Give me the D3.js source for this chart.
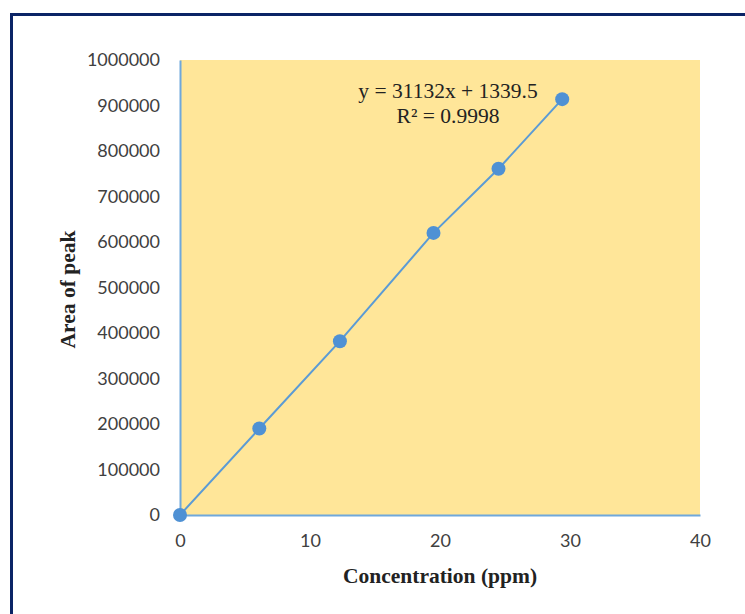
<!DOCTYPE html>
<html>
<head>
<meta charset="utf-8">
<script src="https://cdn.jsdelivr.net/npm/d3@7"></script>
<style>
  body { margin: 0; background: #fff; }
  svg { display: block; }
</style>
</head>
<body>
<div id="chart"></div>
<script>
// Calibration data
const concentration = [0, 6.1, 12.3, 19.5, 24.5, 29.4];
const peakArea = [0, 190000, 382000, 620000, 761000, 914000];
const xTicks = [0, 10, 20, 30, 40];
const yTicks = [0, 100000, 200000, 300000, 400000, 500000, 600000, 700000, 800000, 900000, 1000000];
const fitLabels = ["y = 31132x + 1339.5", "R\u00b2 = 0.9998"];

const width = 745, height = 614;
const margin = { top: 60, right: 45, bottom: 99, left: 180 };
const innerWidth = width - margin.left - margin.right;
const innerHeight = height - margin.top - margin.bottom;

const svg = d3.select("#chart").append("svg")
    .attr("width", width)
    .attr("height", height);

// outer frame
svg.append("rect")
    .attr("x", 11.5).attr("y", 14.5)
    .attr("width", 800).attr("height", 700)
    .attr("fill", "none")
    .attr("stroke", "#0b2466")
    .attr("stroke-width", 3);

const g = svg.append("g")
    .attr("transform", `translate(${margin.left},${margin.top})`);

const x = d3.scaleLinear().domain([0, 40]).range([0, innerWidth]);
const y = d3.scaleLinear().domain([0, 1000000]).range([innerHeight, 0]);

// plot area
g.append("rect")
    .attr("width", innerWidth)
    .attr("height", innerHeight)
    .attr("fill", "#ffe699");

// axes
const xAxis = g.append("g")
    .attr("transform", `translate(0,${innerHeight})`)
    .call(d3.axisBottom(x).tickValues(xTicks).tickSize(0).tickPadding(19));
const yAxis = g.append("g")
    .call(d3.axisLeft(y).tickValues(yTicks).tickSize(0).tickPadding(20).tickFormat(d3.format("d")));

[xAxis, yAxis].forEach(ax => {
    ax.select(".domain").attr("stroke", "#6fa8dc").attr("stroke-width", 2);
    ax.selectAll("text")
        .attr("font-family", "Lato, 'Open Sans', sans-serif")
        .attr("font-size", "18px")
        .attr("fill", "#404040");
});

// line + markers
const pts = concentration.map((c, i) => ({ c: c, a: peakArea[i] }));

g.append("path")
    .datum(pts)
    .attr("fill", "none")
    .attr("stroke", "#5b9bd5")
    .attr("stroke-width", 2)
    .attr("d", d3.line().x(d => x(d.c)).y(d => y(d.a)));

g.selectAll(".pt")
    .data(pts)
    .enter()
    .append("circle")
    .attr("class", "pt")
    .attr("cx", d => x(d.c))
    .attr("cy", d => y(d.a))
    .attr("r", 7)
    .attr("fill", "#4f91d4");

// trendline equation
g.selectAll(".fit")
    .data(fitLabels)
    .enter()
    .append("text")
    .attr("class", "fit")
    .attr("x", 268)
    .attr("y", (d, i) => 38 + i * 25)
    .attr("text-anchor", "middle")
    .attr("font-family", "'Liberation Serif', 'Times New Roman', serif")
    .attr("font-size", "21.5px")
    .attr("fill", "#222")
    .text(d => d);

// axis titles
svg.append("text")
    .attr("x", margin.left + innerWidth / 2)
    .attr("y", 583)
    .attr("text-anchor", "middle")
    .attr("font-family", "'Liberation Serif', 'Times New Roman', serif")
    .attr("font-weight", "bold")
    .attr("font-size", "21.5px")
    .attr("fill", "#222")
    .text("Concentration (ppm)");

svg.append("text")
    .attr("transform", `translate(75,${margin.top + innerHeight / 2 + 2}) rotate(-90)`)
    .attr("text-anchor", "middle")
    .attr("font-family", "'Liberation Serif', 'Times New Roman', serif")
    .attr("font-weight", "bold")
    .attr("font-size", "21.5px")
    .attr("fill", "#222")
    .text("Area of peak");
</script>
</body>
</html>
